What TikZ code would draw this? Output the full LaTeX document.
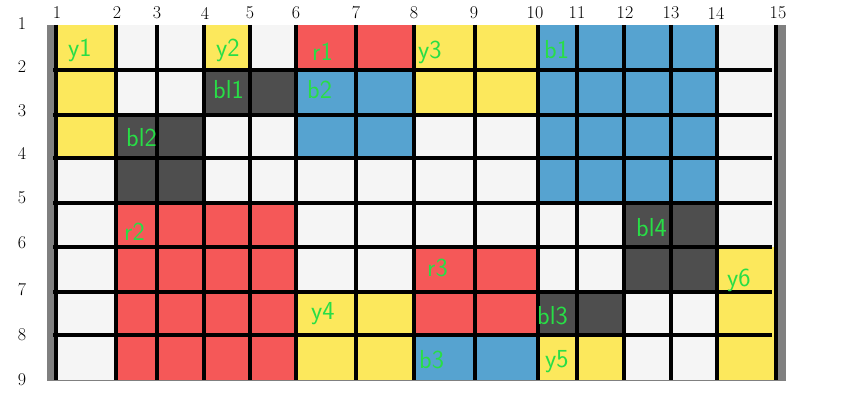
\documentclass[tikz,border=0pt]{standalone}
\usepackage{xcolor}
\usepackage{tikz}
\usetikzlibrary{positioning}

\definecolor{cellyellow}{RGB}{252,232,92}
\definecolor{cellred}{RGB}{245,88,88}
\definecolor{cellblue}{RGB}{86,163,208}
\definecolor{celldark}{RGB}{78,78,78}
\definecolor{cellwhite}{RGB}{245,245,245}
\definecolor{framegray}{RGB}{128,128,128}
\definecolor{taggreen}{RGB}{40,222,70}

\begin{document}
\begin{tikzpicture}[
    x=1pt, y=-1pt,
    tag/.style={text=taggreen, anchor=west, inner sep=0pt, font=\fontsize{26}{26}\selectfont\sffamily},
    axis/.style={inner sep=0pt, font=\fontsize{18}{18}\selectfont},
    gridline/.style={line width=4.5pt, black}
]
\useasboundingbox (0,0) rectangle (843,409);
\foreach \i/\x in {1/56,2/116,3/157,4/204,5/250,6/296,7/356,8/414,9/475,10/538,11/577,12/624,13/671,14/717,15/776}
    \coordinate (c\i) at (\x,25);
\foreach \j/\y in {1/25,2/70,3/115,4/158,5/203,6/247,7/292,8/335,9/380}
    \coordinate (r\j) at (56,\y);

\fill[framegray] (47,25) rectangle (786,381);
\fill[cellwhite] (c1) rectangle (c15 |- r9);
\foreach \a/\b/\p/\q/\col in {1/2/1/4/cellyellow, 4/5/1/2/cellyellow, 6/8/1/2/cellred, 8/10/1/3/cellyellow,
    10/14/1/5/cellblue, 4/6/2/3/celldark, 6/8/2/4/cellblue, 2/4/3/5/celldark, 2/6/5/9/cellred,
    12/14/5/7/celldark, 8/10/6/8/cellred, 14/15/6/9/cellyellow, 6/8/7/9/cellyellow,
    10/12/7/8/celldark, 8/10/8/9/cellblue, 10/12/8/9/cellyellow}
    \fill[\col] (c\a |- r\p) rectangle (c\b |- r\q);

\foreach \i in {1,...,15}
    \draw[gridline] (c\i) -- (c\i |- r9);
\foreach \j in {2,...,8}
    \draw[gridline] ([xshift=-3pt]r\j) -- ([xshift=-4pt]r\j -| c15);

\foreach \i/\x in {1/57,2/117,3/157,4/205,5/250,6/296,7/356,8/414,9/474,10/535,11/577,12/625,13/671,14/716,15/778}
    \node[axis] (t\i) at (\x,13) {\i};
\foreach \j/\y in {1/24,2/67,3/111,4/153,5/198,6/243,7/290,8/335,9/380}
    \node[axis] (s\j) at (22,\y) {\j};

\node[tag] (y1) at (68,50) {y1};
\node[tag] (y2) at (216,50) {y2};
\node[tag] (r1) at (312,52) {r1};
\node[tag] (y3) at (418,52) {y3};
\node[tag] (b1) at (544,50) {b1};
\node[tag] (bl1) at (213,90) {bl1};
\node[tag] (b2) at (307,90) {b2};
\node[tag] (bl2) at (126,138) {bl2};
\node[tag] (r2) at (124,232) {r2};
\node[tag] (bl4) at (636,228) {bl4};
\node[tag] (r3) at (427,268) {r3};
\node[tag] (y6) at (727,280) {y6};
\node[tag] (y4) at (311,314) {y4};
\node[tag] (bl3) at (537,316) {bl3};
\node[tag] (b3) at (419,360) {b3};
\node[tag] (y5) at (545,362) {y5};
\end{tikzpicture}
\end{document}
